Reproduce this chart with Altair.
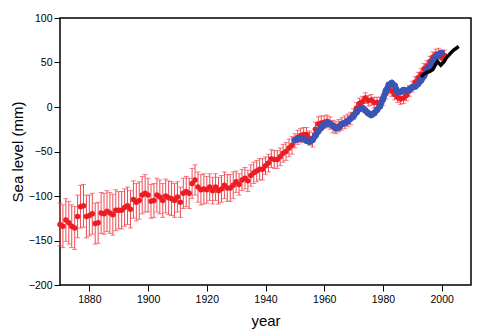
import altair as alt
import pandas as pd

# ---- data ----
red_years = list(range(1870, 2002))
red_values = [
    -132, -134, -127, -130, -134, -136, -123, -112, -111, -123,   # 1870s
    -122, -120, -131, -130, -119, -120, -117, -119, -121, -116,   # 1880s
    -116, -116, -113, -111, -115, -104, -107, -105, -99, -97,     # 1890s
    -99, -106, -105, -99, -101, -105, -100, -102, -103, -105,     # 1900s
    -101, -107, -97, -95, -97, -86, -82, -90, -93, -92,           # 1910s
    -93, -90, -94, -90, -94, -92, -88, -91, -91, -88,             # 1920s
    -84, -87, -82, -80, -83, -77, -74, -72, -70, -70,             # 1930s
    -66, -63, -58, -59, -59, -56, -52, -50, -46, -43,             # 1940s
    -38, -34, -32, -31, -31, -35, -37, -25, -19, -18,             # 1950s
    -17, -16, -18, -22, -23, -21, -19, -17, -15, -13,             # 1960s
    -8, -1, 4, 6, 10, 7, 8, 5, 5, 5,                              # 1970s
    8, 15, 21, 18, 14, 11, 9, 10, 13, 18,                         # 1980s
    23, 28, 33, 37, 43, 46, 51, 56, 59, 60,                       # 1990s
    55, 58,                                                       # 2000s
]
red_err = [
    24, 24, 24, 24, 24, 24, 24, 24, 24, 24,
    23, 23, 23, 23, 23, 23, 23, 23, 23, 23,
    21, 21, 21, 21, 21, 21, 21, 21, 21, 21,
    19, 19, 19, 19, 19, 19, 19, 19, 19, 19,
    17, 17, 17, 17, 17, 17, 17, 17, 17, 17,
    15, 15, 15, 15, 15, 15, 15, 15, 15, 15,
    12, 12, 12, 12, 12, 12, 12, 12, 12, 12,
    10, 10, 10, 10, 10, 10, 10, 10, 10, 10,
    8, 8, 8, 8, 8, 8, 8, 8, 8, 8,
    7, 7, 7, 7, 7, 7, 7, 7, 7, 7,
    6, 6, 6, 6, 6, 6, 6, 6, 6, 6,
    6, 6, 6, 6, 6, 6, 6, 6, 6, 6,
    6, 6, 6, 6, 6, 6, 6, 6, 6, 6,
    6, 6,
]

blue_years = list(range(1950, 2001))
blue_values = [
    -37, -36, -35, -36, -38, -39, -37, -32, -27, -23,   # 1950s
    -20, -18, -19, -21, -24, -23, -19, -18, -16, -13,   # 1960s
    -10, -6, -2, -1, -4, -7, -9, -7, -3, 1,             # 1970s
    9, 18, 25, 27, 24, 17, 17, 19, 18, 20,              # 1980s
    22, 23, 26, 30, 35, 41, 46, 51, 56, 59,             # 1990s
    61,                                                 # 2000
]

black_years = [1993, 1994, 1995, 1996, 1997, 1998, 1998.6, 1999.7, 2000.8,
               2001.5, 2002.4, 2003.2, 2004.1, 2005, 2005.8]
black_values = [34, 37, 39, 40, 42, 48, 51, 47, 51, 55, 58, 61, 64, 66, 68]

x_ticks = [1880, 1900, 1920, 1940, 1960, 1980, 2000]
y_ticks = [-200, -150, -100, -50, 0, 50, 100]

RED = "#ec1c24"
RED_BAR = "#ee4a52"
BLUE = "#3a55b4"
FONT = "Liberation Sans"

red_df = pd.DataFrame({"year": red_years, "level": red_values, "err": red_err})
red_df["lo"] = red_df["level"] - red_df["err"]
red_df["hi"] = red_df["level"] + red_df["err"]
blue_df = pd.DataFrame({"year": blue_years, "level": blue_values})
black_df = pd.DataFrame({"year": black_years, "level": black_values})

xscale = alt.Scale(domain=[1870, 2010], nice=False, zero=False)
yscale = alt.Scale(domain=[-200, 100], nice=False, zero=False)

xaxis = alt.Axis(values=x_ticks, format="d", title="year", grid=False,
                 tickSize=6, tickColor="black", tickWidth=1,
                 labelFontSize=10.5, labelPadding=3, labelColor="black",
                 titleFontSize=15, titleFontWeight="normal", titleColor="black",
                 titleY=35, titleBaseline="middle",
                 domain=False, labelFont=FONT, titleFont=FONT)
yaxis = alt.Axis(values=y_ticks, format="d", title="Sea level (mm)", grid=False,
                 tickSize=6, tickColor="black", tickWidth=1,
                 labelFontSize=10.5, labelPadding=2, labelColor="black",
                 titleFontSize=15, titleFontWeight="normal", titleColor="black",
                 titleX=-43, titleY=133.5, titleAngle=270,
                 titleAlign="center", titleBaseline="middle",
                 domain=False, labelFont=FONT, titleFont=FONT)

base_red = alt.Chart(red_df)

bars = base_red.mark_rule(color=RED_BAR, strokeWidth=1).encode(
    x=alt.X("year:Q", scale=xscale, axis=xaxis),
    y=alt.Y("lo:Q", scale=yscale, axis=yaxis),
    y2="hi:Q",
)
cap_lo = base_red.mark_tick(color=RED_BAR, thickness=1, size=5, orient="horizontal").encode(
    x=alt.X("year:Q", scale=xscale), y=alt.Y("lo:Q", scale=yscale))
cap_hi = base_red.mark_tick(color=RED_BAR, thickness=1, size=5, orient="horizontal").encode(
    x=alt.X("year:Q", scale=xscale), y=alt.Y("hi:Q", scale=yscale))
red_pts = base_red.mark_circle(color=RED, size=30, opacity=1).encode(
    x=alt.X("year:Q", scale=xscale), y=alt.Y("level:Q", scale=yscale))

blue_line = alt.Chart(blue_df).mark_line(color=BLUE, strokeWidth=6).encode(
    x=alt.X("year:Q", scale=xscale), y=alt.Y("level:Q", scale=yscale))
blue_pts = alt.Chart(blue_df).mark_circle(color=BLUE, size=42, opacity=1).encode(
    x=alt.X("year:Q", scale=xscale), y=alt.Y("level:Q", scale=yscale))

black_line = alt.Chart(black_df).mark_line(color="black", strokeWidth=3.5).encode(
    x=alt.X("year:Q", scale=xscale), y=alt.Y("level:Q", scale=yscale))

chart = alt.layer(bars, cap_lo, cap_hi, red_pts, blue_line, blue_pts, black_line).properties(
    width=411, height=267,
    autosize=alt.AutoSizeParams(type="none"),
    padding={"left": 60, "top": 18, "right": 9, "bottom": 48},
    background="white",
).configure_view(stroke="black", strokeWidth=1.5)

chart.save("out.html", embed_options={"renderer": "svg", "actions": False})
